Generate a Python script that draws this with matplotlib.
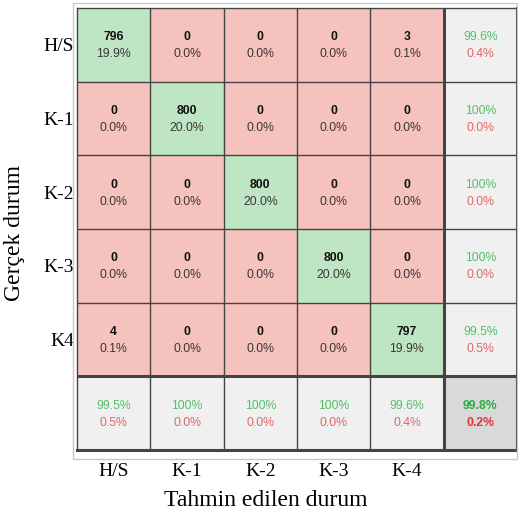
import numpy as np
import matplotlib.pyplot as plt
from matplotlib.patches import Rectangle

# sınıf etiketleri ve karışıklık matrisi
row_labels = ["H/S", "K-1", "K-2", "K-3", "K4"]
col_labels = ["H/S", "K-1", "K-2", "K-3", "K-4"]
counts = np.array([
    [796, 0, 0, 0, 3],
    [0, 800, 0, 0, 0],
    [0, 0, 800, 0, 0],
    [0, 0, 0, 800, 0],
    [4, 0, 0, 0, 797],
])

green_bg = "#bfe6c4"
red_bg = "#f6c2bd"
grey_bg = "#f0f0f0"
corner_bg = "#d9d9d9"
green_txt = "#55bf68"
red_txt = "#e06868"

n = len(row_labels)
total = counts.sum()


def pct(v):
    return "100%" if round(v, 1) >= 100 else f"{v:.1f}%"


colors = np.zeros((n + 1, n + 1, 3))
for i in range(n + 1):
    for j in range(n + 1):
        if i == n and j == n:
            c = corner_bg
        elif i == n or j == n:
            c = grey_bg
        elif i == j:
            c = green_bg
        else:
            c = red_bg
        colors[i, j] = plt.matplotlib.colors.to_rgb(c)

fig = plt.figure(figsize=(5.18, 5.19), dpi=100)
ax = fig.add_axes([77 / 518, 1 - 450 / 519, 440 / 518, 442 / 519])
ax.imshow(colors, extent=(-0.5, n + 0.5, n + 0.5, -0.5), aspect="auto")

cell_font = dict(family="Liberation Sans", fontsize=8.8, ha="center", va="center")
for i in range(n):
    for j in range(n):
        v = counts[i, j]
        ax.text(j, i - 0.1, str(v), fontweight="bold", color="#111", **cell_font)
        ax.text(j, i + 0.13, pct(100 * v / total), color="#3a3535", **cell_font)

# satır özetleri (sağ sütun)
for i in range(n):
    acc = 100 * counts[i, i] / counts[i].sum()
    ax.text(n, i - 0.1, pct(acc), color=green_txt, **cell_font)
    ax.text(n, i + 0.13, pct(100 - acc), color=red_txt, **cell_font)

# sütun özetleri (alt satır)
for j in range(n):
    acc = 100 * counts[j, j] / counts[:, j].sum()
    ax.text(j, n - 0.1, pct(acc), color=green_txt, **cell_font)
    ax.text(j, n + 0.13, pct(100 - acc), color=red_txt, **cell_font)

acc = 100 * np.trace(counts) / total
ax.text(n, n - 0.1, pct(acc), color="#2eaa45", fontweight="bold", **cell_font)
ax.text(n, n + 0.13, pct(100 - acc), color="#e03535", fontweight="bold", **cell_font)

# ızgara çizgileri
for k in range(1, n + 1):
    lw = 2.2 if k == n else 1.0
    ax.axhline(k - 0.5, color="#444", lw=lw)
    ax.axvline(k - 0.5, color="#444", lw=lw)

for s in ax.spines.values():
    s.set_color("#444")
    s.set_linewidth(1.0)
ax.spines["bottom"].set_linewidth(2.2)
ax.spines["right"].set_linewidth(2.2)

ax.set_xlim(-0.5, n + 0.5)
ax.set_ylim(n + 0.5, -0.5)
ax.set_xticks(range(n))
ax.set_xticklabels(col_labels)
ax.set_yticks(range(n))
ax.set_yticklabels(row_labels)
ax.tick_params(length=0, labelsize=14)
ax.tick_params(axis="y", pad=2)
ax.tick_params(axis="x", pad=9)
for t in ax.get_xticklabels() + ax.get_yticklabels():
    t.set_family("Liberation Serif")

ax.set_xlabel("Tahmin edilen durum", family="Liberation Serif", fontsize=17)
ax.set_ylabel("Gerçek durum", family="Liberation Serif", fontsize=17)
# eksen başlıkları referanstaki gibi konumlandırılır
ax.xaxis.set_label_coords(189 / 440, -40 / 442)
ax.yaxis.set_label_coords(-52 / 440, 1 - 225 / 442)

# dış açık gri çerçeve
fig.patches.append(Rectangle((73 / 518, 1 - 459 / 519), 444 / 518, 456 / 519,
                             transform=fig.transFigure, fill=False,
                             edgecolor="#c8c8c8", lw=1))

plt.savefig("out.png", dpi=100)
